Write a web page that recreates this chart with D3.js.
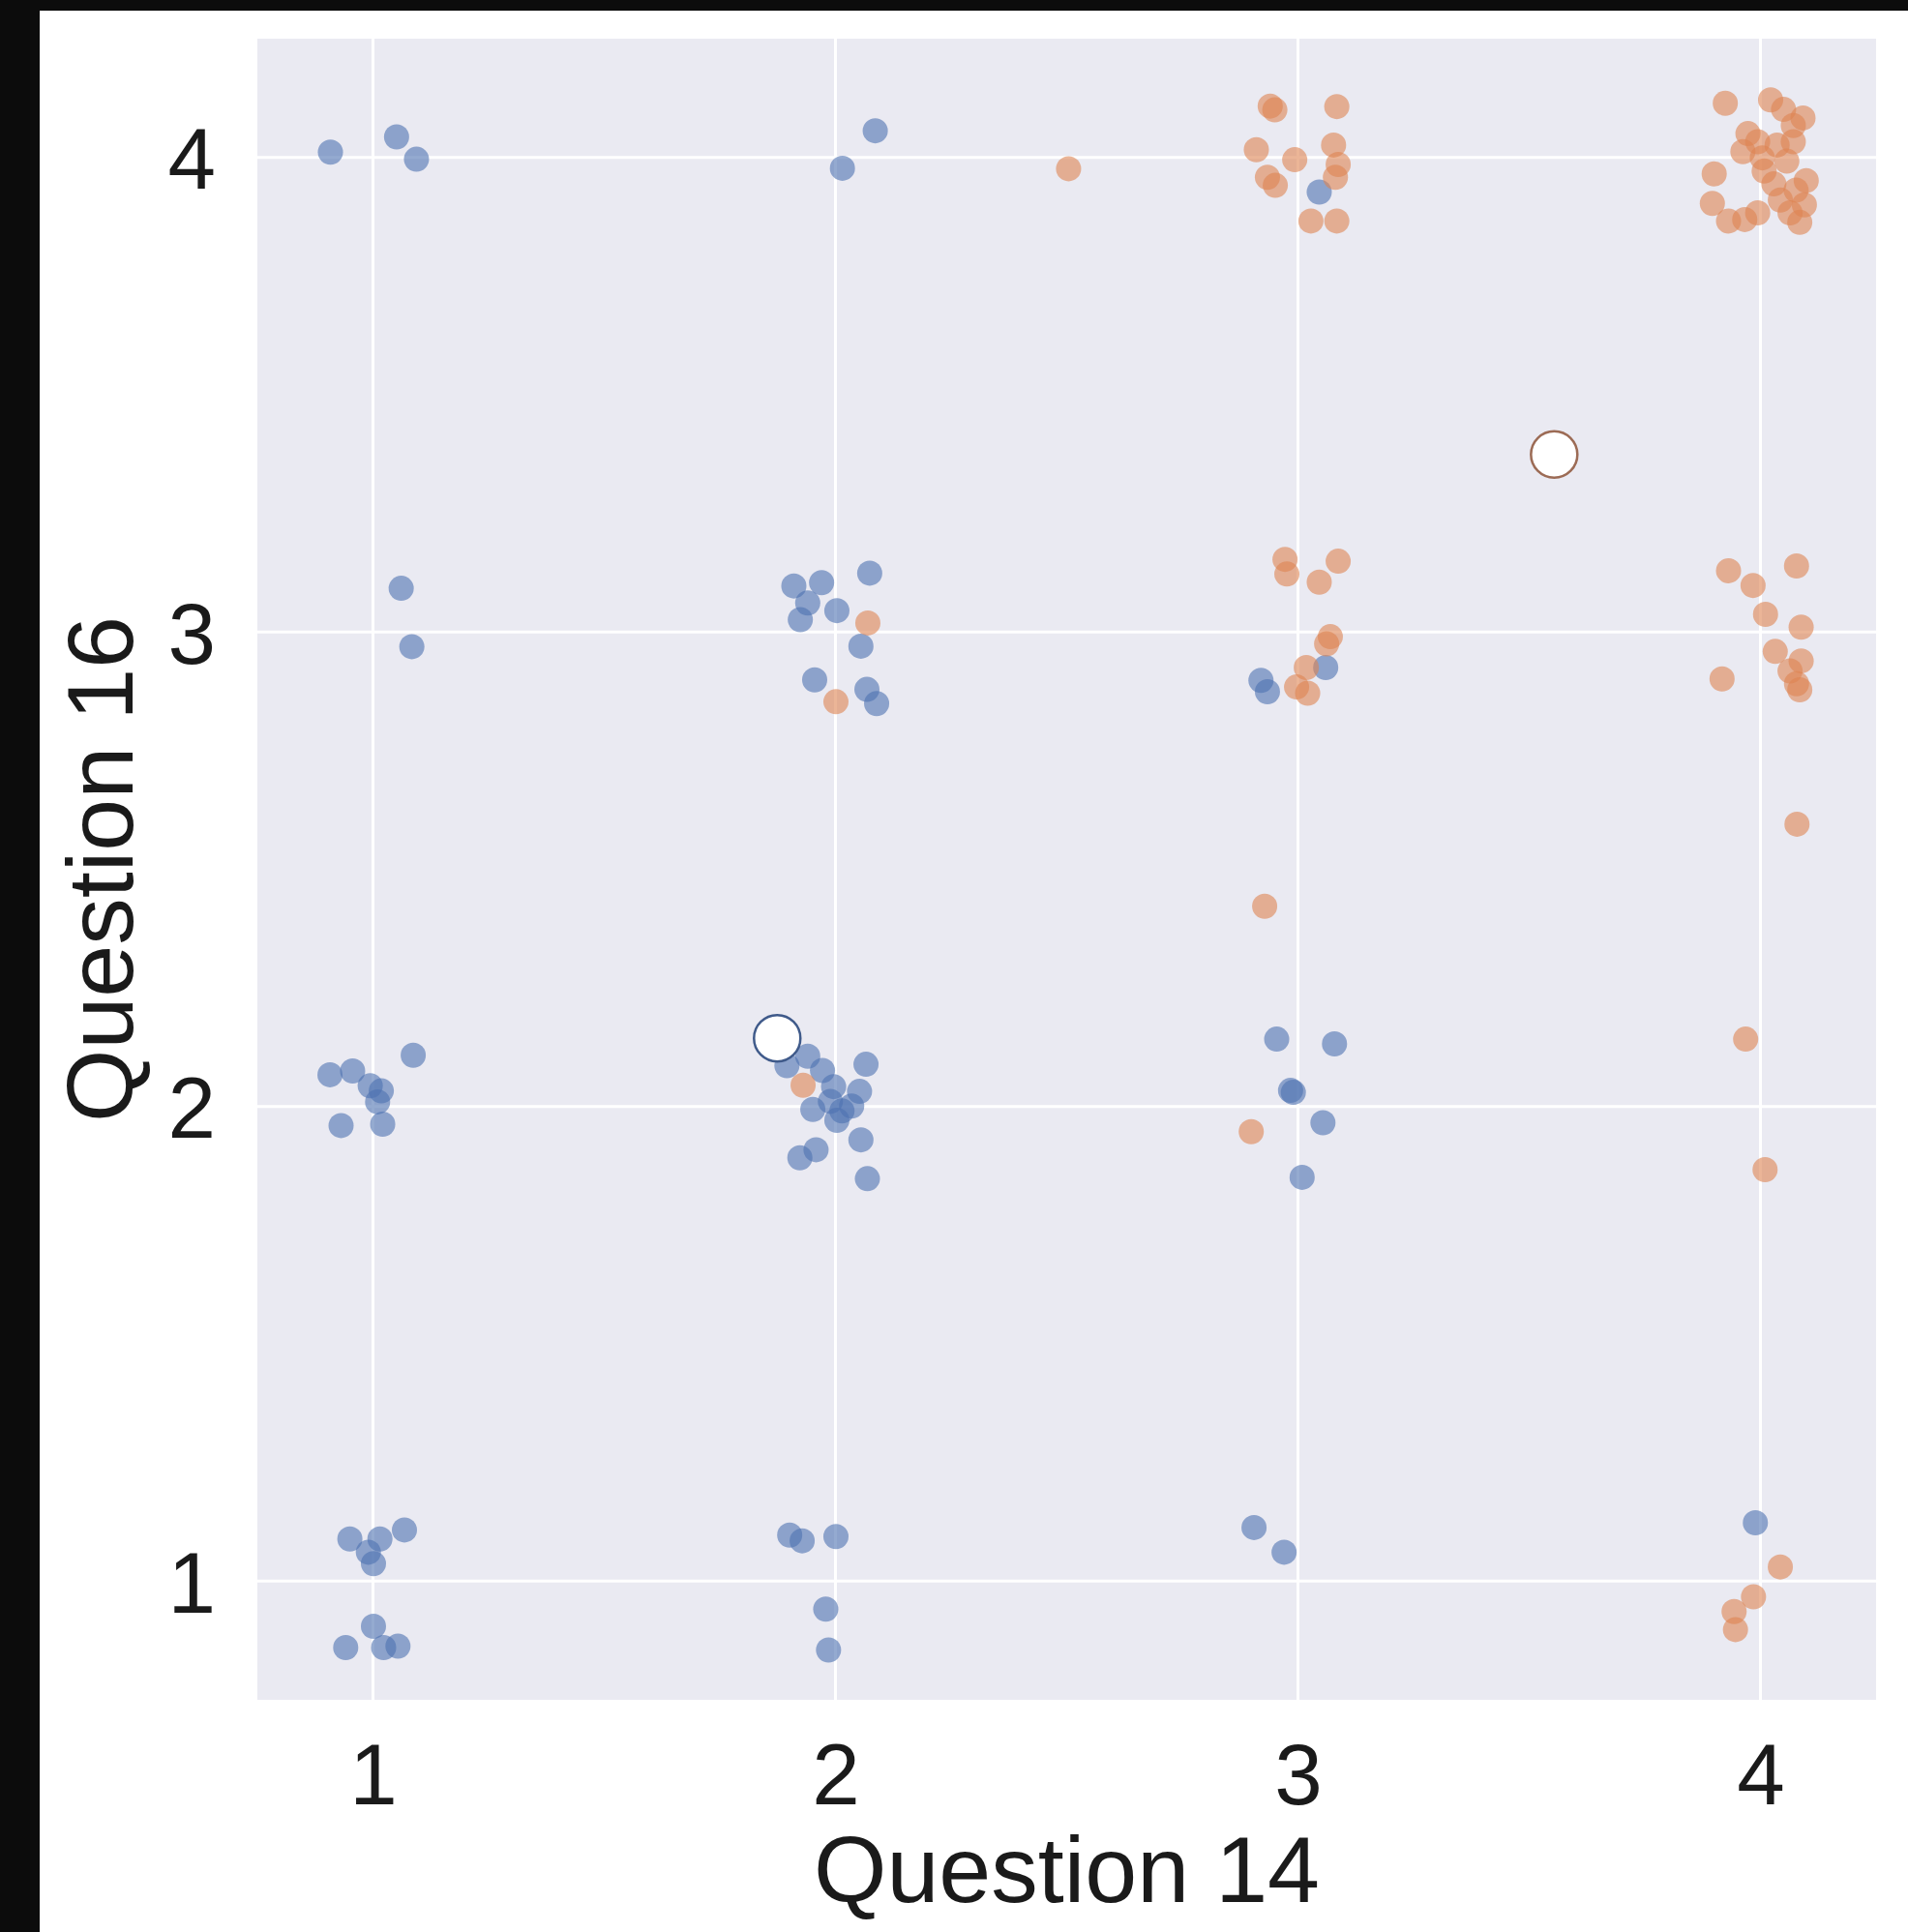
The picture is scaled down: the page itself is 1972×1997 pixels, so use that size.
<!DOCTYPE html>
<html>
<head>
<meta charset="utf-8">
<script src="https://cdn.jsdelivr.net/npm/d3@7"></script>
<style>
	body { margin: 0; background: #ffffff; }
	svg { display: block; }
</style>
</head>
<body>
<div id="chart"></div>
<script>
/***************************************************************************/
/******************************************************** THE DATA *****/
/***************************************************************************/

const ticks = [1, 2, 3, 4];
const xLabel = "Question 14";
const yLabel = "Question 16";

// first group (blue)
const blueX = [
	0.908, 1.051, 1.094, 2.086, 2.015, 3.046,
	1.061, 1.084,
	1.910, 1.970, 2.074, 1.940, 2.003, 1.924, 2.055, 1.955, 2.068, 2.089,
	3.060, 2.920, 2.934,
	0.907, 0.956, 0.994, 1.018, 1.010, 1.087, 0.931, 1.021,
	1.895, 1.940, 1.972, 1.951, 1.996, 1.989, 2.014, 2.035, 2.052, 2.066, 2.003, 2.055, 1.923, 1.958, 2.069,
	2.954, 3.079, 2.984, 2.990, 3.054, 3.009,
	0.950, 1.015, 1.068, 0.990, 1.001, 0.941, 1.001, 1.023, 1.054,
	1.901, 1.928, 2.001, 1.979, 1.985,
	2.905, 2.970,
	3.989
];
const blueY = [
	4.011, 4.043, 3.996, 4.056, 3.977, 3.927,
	3.092, 2.969,
	3.097, 3.104, 3.124, 3.061, 3.045, 3.026, 2.970, 2.899, 2.879, 2.849,
	2.925, 2.898, 2.874,
	2.067, 2.075, 2.044, 2.033, 2.010, 2.108, 1.960, 1.963,
	2.086, 2.106, 2.076, 1.994, 2.042, 2.011, 1.991, 2.001, 2.032, 2.089, 1.971, 1.930, 1.892, 1.909, 1.848,
	2.142, 2.132, 2.034, 2.030, 1.966, 1.851,
	1.089, 1.089, 1.108, 1.061, 1.037, 0.860, 0.905, 0.860, 0.863,
	1.097, 1.085, 1.094, 0.941, 0.855,
	1.113, 1.061,
	1.123
];

// second group (orange)
const orangeX = [
	2.504,
	2.940, 2.950, 3.084, 2.910, 2.993, 2.934, 2.951, 3.077, 3.087, 3.081, 3.028, 3.084,
	3.924, 4.022, 4.050, 4.092, 4.071, 3.973, 3.994, 4.036, 4.071, 3.962, 4.004, 4.057, 4.008,
	3.900, 4.099, 4.029, 4.077, 3.896, 4.043, 4.095, 3.931, 3.966, 3.994, 4.085, 4.064,
	2.070, 2.001,
	2.972, 2.976, 3.087, 3.046, 3.070, 3.062, 3.018, 2.997, 3.021,
	3.931, 3.984, 4.078, 4.011, 4.088, 4.032, 4.064, 4.088, 4.078, 4.085, 3.917,
	2.928, 4.079,
	1.930, 2.899, 3.968, 4.010,
	4.043, 3.985, 3.943, 3.946
];
const orangeY = [
	3.976,
	4.108, 4.100, 4.107, 4.016, 3.995, 3.958, 3.941, 4.026, 3.985, 3.958, 3.866, 3.866,
	4.114, 4.121, 4.101, 4.083, 4.067, 4.050, 4.033, 4.026, 4.033, 4.012, 3.999, 3.992, 3.971,
	3.965, 3.951, 3.944, 3.931, 3.903, 3.910, 3.900, 3.866, 3.869, 3.883, 3.863, 3.883,
	3.019, 2.853,
	3.153, 3.122, 3.149, 3.105, 2.990, 2.975, 2.925, 2.884, 2.871,
	3.129, 3.098, 3.139, 3.037, 3.010, 2.959, 2.918, 2.939, 2.891, 2.878, 2.901,
	2.422, 2.595,
	2.045, 1.947, 2.142, 1.867,
	1.030, 0.967, 0.936, 0.898
];

// the two large white markers
const centerX = [1.874, 3.554];
const centerY = [2.144, 3.374];
const centerEdge = ["#3f5a8a", "#9c6b55"];

/***************************************************************************/
/*************************************************** THE DRAWING *****/
/***************************************************************************/

const width = 1972, height = 1997;
const plot = {left: 266, right: 1939, top: 40, bottom: 1757};

const svg = d3.select("#chart")
	.append("svg")
	.attr("width", width)
	.attr("height", height)
	.style("font-family", "'Liberation Sans', Arial, sans-serif");

// white page with the black strips of the screenshot
svg.append("rect").attr("width", width).attr("height", height).attr("fill", "#ffffff");
svg.append("rect").attr("x", 0).attr("y", 0).attr("width", 41).attr("height", height).attr("fill", "#0c0c0c");
svg.append("rect").attr("x", 0).attr("y", 0).attr("width", width).attr("height", 11).attr("fill", "#0c0c0c");

const x = d3.scaleLinear()
	.domain([0.75, 4.25])
	.range([plot.left, plot.right]);

const y = d3.scaleLinear()
	.domain([0.75, 4.25])
	.range([plot.bottom, plot.top]);

// fond du graphique
svg.append("rect")
	.attr("x", plot.left)
	.attr("y", plot.top)
	.attr("width", plot.right - plot.left)
	.attr("height", plot.bottom - plot.top)
	.attr("fill", "#eaeaf2");

// grid
const grid = svg.append("g");

grid.selectAll("line.vx")
	.data(ticks)
	.enter()
	.append("line")
	.attr("class", "vx")
	.attr("x1", function(d){ return x(d); })
	.attr("x2", function(d){ return x(d); })
	.attr("y1", plot.top)
	.attr("y2", plot.bottom)
	.attr("stroke", "#ffffff")
	.attr("stroke-width", 3);

grid.selectAll("line.hy")
	.data(ticks)
	.enter()
	.append("line")
	.attr("class", "hy")
	.attr("x1", plot.left)
	.attr("x2", plot.right)
	.attr("y1", function(d){ return y(d); })
	.attr("y2", function(d){ return y(d); })
	.attr("stroke", "#ffffff")
	.attr("stroke-width", 3);

// points
const blue = svg.append("g");

blue.selectAll("circle")
	.data(d3.zip(blueX, blueY))
	.enter()
	.append("circle")
	.attr("cx", function(d){ return x(d[0]); })
	.attr("cy", function(d){ return y(d[1]); })
	.attr("r", 13)
	.attr("fill", "#4c72b0")
	.attr("fill-opacity", 0.6);

const orange = svg.append("g");

orange.selectAll("circle")
	.data(d3.zip(orangeX, orangeY))
	.enter()
	.append("circle")
	.attr("cx", function(d){ return x(d[0]); })
	.attr("cy", function(d){ return y(d[1]); })
	.attr("r", 13)
	.attr("fill", "#dd8452")
	.attr("fill-opacity", 0.6);

const centers = svg.append("g");

centers.selectAll("circle")
	.data(d3.zip(centerX, centerY, centerEdge))
	.enter()
	.append("circle")
	.attr("cx", function(d){ return x(d[0]); })
	.attr("cy", function(d){ return y(d[1]); })
	.attr("r", 24)
	.attr("fill", "#ffffff")
	.attr("stroke", function(d){ return d[2]; })
	.attr("stroke-width", 2.5);

// axes
const xAxis = svg.append("g")
	.attr("transform", "translate(0," + plot.bottom + ")")
	.call(d3.axisBottom(x).tickValues(ticks).tickSize(0).tickPadding(45).tickFormat(d3.format("d")));

const yAxis = svg.append("g")
	.attr("transform", "translate(" + plot.left + ",0)")
	.call(d3.axisLeft(y).tickValues(ticks).tickSize(0).tickPadding(43).tickFormat(d3.format("d")));

svg.selectAll(".domain").remove();
svg.selectAll(".tick text")
	.attr("fill", "#1a1a1a")
	.style("font-size", "89px")
	.style("font-family", "'Liberation Sans', Arial, sans-serif");
yAxis.selectAll(".tick text").attr("dy", "0.36em");

// titres des axes
svg.append("text")
	.attr("x", (plot.left + plot.right) / 2)
	.attr("y", 1966)
	.attr("text-anchor", "middle")
	.attr("fill", "#1a1a1a")
	.style("font-size", "97px")
	.text(xLabel);

svg.append("text")
	.attr("transform", "translate(137," + ((plot.top + plot.bottom) / 2) + ") rotate(-90)")
	.attr("text-anchor", "middle")
	.attr("fill", "#1a1a1a")
	.style("font-size", "97px")
	.text(yLabel);
</script>
</body>
</html>
